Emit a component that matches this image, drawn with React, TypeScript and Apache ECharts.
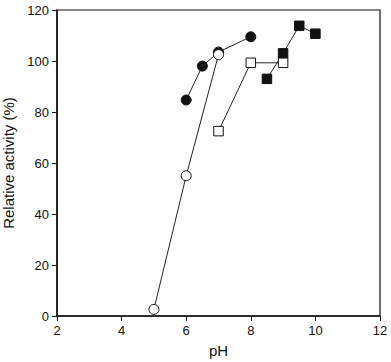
import React, { useEffect, useRef } from "react";
import * as echarts from "echarts";

const filledCircles: number[][] = [[6, 84.7], [6.5, 98], [7, 103.5], [8, 109.5]];
const openCircles: number[][] = [[5, 2.6], [6, 55], [7, 102.5]];
const filledSquares: number[][] = [[8.5, 93], [9, 103], [9.5, 113.8], [10, 110.7]];
const openSquares: number[][] = [[7, 72.5], [8, 99.3], [9, 99.3]];

const FONT = "Liberation Sans, Arial, Helvetica, sans-serif";

export default function App() {
  const ref = useRef<HTMLDivElement>(null);
  useEffect(() => {
    if (!ref.current) return;
    const chart = echarts.init(ref.current, null, { renderer: "svg" });
    const lineStyle = { color: "#222", width: 1 };
    const mk = (name: string, data: number[][], symbol: string, fill: string) => ({
      name,
      type: "line",
      data,
      symbol,
      symbolSize: symbol === "rect" ? 9.5 : 10,
      showSymbol: true,
      lineStyle,
      itemStyle: { color: fill, borderColor: "#111", borderWidth: 1, opacity: 1 },
      emphasis: { disabled: true },
    });
    chart.setOption({
      animation: false,
      backgroundColor: "#fff",
      grid: {
        left: 57,
        top: 10,
        right: 11,
        bottom: 46,
        outerBoundsMode: "none",
        containLabel: false,
        show: true,
        borderColor: "#111",
        borderWidth: 1.2,
        backgroundColor: "transparent",
      },
      xAxis: {
        type: "value",
        min: 2,
        max: 12,
        interval: 2,
        name: "pH",
        nameLocation: "middle",
        nameGap: 27,
        nameTextStyle: { fontFamily: FONT, fontSize: 15, color: "#111" },
        axisLine: { show: true, onZero: false, lineStyle: { color: "#111", width: 1.5 } },
        axisTick: { show: true, length: 5, lineStyle: { color: "#111", width: 1 } },
        axisLabel: { fontFamily: FONT, fontSize: 13, color: "#111", margin: 8 },
        splitLine: { show: false },
      },
      yAxis: {
        type: "value",
        min: 0,
        max: 120,
        interval: 20,
        name: "Relative activity (%)",
        nameLocation: "middle",
        nameGap: 34,
        nameTextStyle: { fontFamily: FONT, fontSize: 15, color: "#111" },
        axisLine: { show: true, onZero: false, lineStyle: { color: "#111", width: 1.5 } },
        axisTick: { show: true, length: 5, lineStyle: { color: "#111", width: 1 } },
        axisLabel: { fontFamily: FONT, fontSize: 13, color: "#111", margin: 8 },
        splitLine: { show: false },
      },
      series: [
        mk("filledCircles", filledCircles, "circle", "#111"),
        mk("openCircles", openCircles, "circle", "#fff"),
        mk("filledSquares", filledSquares, "rect", "#111"),
        mk("openSquares", openSquares, "rect", "#fff"),
      ],
    });
    return () => chart.dispose();
  }, []);
  return <div ref={ref} style={{ width: 391, height: 362, position: "absolute", left: 0, top: 0 }} />;
}
